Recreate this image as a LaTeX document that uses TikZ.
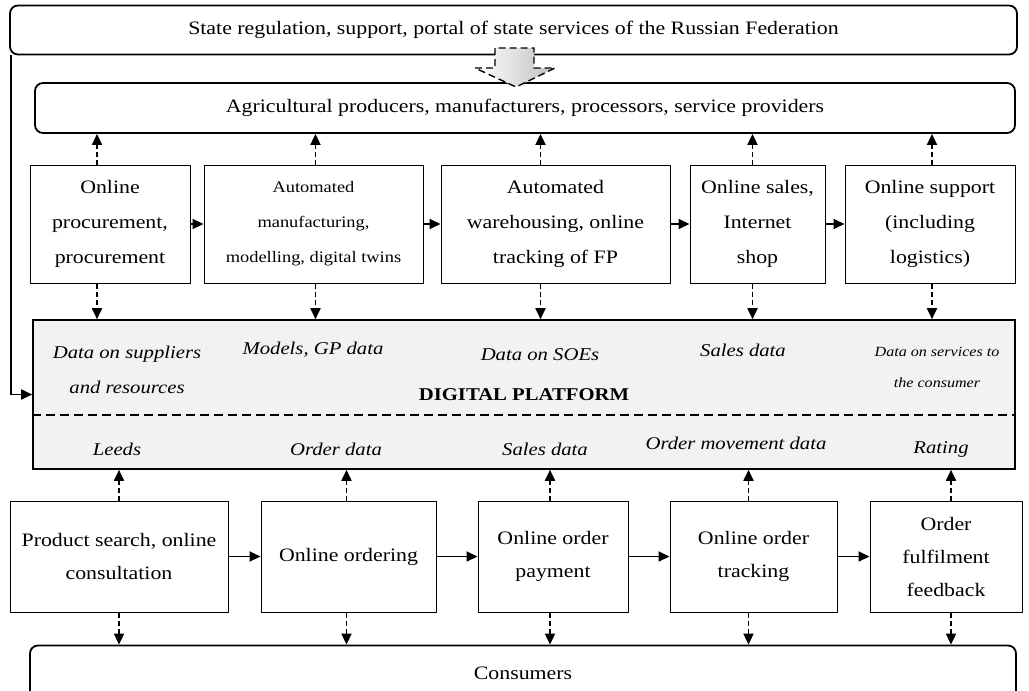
\documentclass[tikz,border=0pt]{standalone}
\usepackage{fontspec}
\setmainfont[FakeStretch=1.15]{Liberation Serif}
\usetikzlibrary{positioning, arrows.meta}
\tikzset{
    >={Triangle[length=11pt, width=10pt]}, % filled triangle heads
    band/.style={draw, rounded corners=8pt, line width=1.8pt, font=\fontsize{19}{22}\selectfont}, % the long rounded bars
    proc/.style={draw, line width=1pt, align=center, inner sep=2pt, font=\fontsize{19}{35}\selectfont}, % process boxes
    toprow/.style={proc, minimum height=118pt},
    lowrow/.style={proc, minimum height=111pt, font=\fontsize{19}{33}\selectfont},
    flow/.style={->, line width=1.8pt}, % solid arrows between steps
    link/.style={->, line width=1.8pt, dash pattern=on 5pt off 3pt}, % dashed data arrows
    plab/.style={font=\itshape\fontsize{18}{35}\selectfont, align=center}, % labels on the platform
}
\begin{document}
\begin{tikzpicture}[x=1pt, y=-1pt]
\useasboundingbox (0,0) rectangle (1029,691);
% bars
\node[band, minimum width=1007pt, minimum height=49pt] (state) at (513.5,30) {State regulation, support, portal of state services of the Russian Federation};
\node[band, minimum width=980pt, minimum height=50pt] (agri) at (525,108) {Agricultural producers, manufacturers, processors, service providers};
\node[draw, fill=gray!10, line width=1.6pt, minimum width=982pt, minimum height=149pt, font=\bfseries\fontsize{18}{22}\selectfont] (platform) at (524,394.5) {DIGITAL PLATFORM};
\node[band, minimum width=986pt, minimum height=55pt] (consumers) at (523,673) {Consumers};
% big arrow from the state
\draw[line width=1.4pt, dash pattern=on 7pt off 4pt, left color=white, right color=gray!50]
    (495,48) -- (495,68) -- (475,68) -- (516,87) -- (555,68) -- (534,68) -- (534,48) -- cycle;
% upper process chain
\node[toprow, minimum width=160pt] (p1) at (110,224) {Online\\procurement,\\procurement};
\node[toprow, minimum width=219pt, font=\fontsize{16}{35}\selectfont] (p2) at (313.5,224) {Automated\\manufacturing,\\modelling, digital twins};
\node[toprow, minimum width=229pt] (p3) at (555.5,224) {Automated\\warehousing, online\\tracking of FP};
\node[toprow, minimum width=135pt] (p4) at (757.5,224) {Online sales,\\Internet\\shop};
\node[toprow, minimum width=170pt] (p5) at (930,224) {Online support\\(including\\logistics)};
\draw[flow] (p1) -- (p2);
\draw[flow] (p2) -- (p3);
\draw[flow] (p3) -- (p4);
\draw[flow] (p4) -- (p5);
\foreach \n/\s in {p1/-13, p2/2, p3/-15, p4/-5, p5/2} {
    \draw[link] ([xshift=\s pt]\n.north) -- ([xshift=\s pt]\n.north |- agri.south);
    \draw[link] ([xshift=\s pt]\n.south) -- ([xshift=\s pt]\n.south |- platform.north);
}
% platform labels
\node[plab] (dsup) at (127,370) {Data on suppliers\\and resources};
\node[plab] (dmod) at (313,350) {Models, GP data};
\node[plab] (dsoe) at (540,355) {Data on SOEs};
\node[plab] (dsal) at (743,350) {Sales data};
\node[plab, font=\itshape\fontsize{14}{31}\selectfont] (dser) at (937,367) {Data on services to\\the consumer};
\draw[line width=1.5pt, dash pattern=on 9pt off 5pt] (platform.west |- 0,415) -- (platform.east |- 0,415);
\node[plab] (lead) at (117,449) {Leeds};
\node[plab] (dord) at (336,449) {Order data};
\node[plab] (dpay) at (545,449) {Sales data};
\node[plab] (dmov) at (736,443) {Order movement data};
\node[plab] (drat) at (941,449) {Rating};
% lower process chain
\node[lowrow, minimum width=218pt] (c1) at (119,556.5) {Product search, online\\consultation};
\node[lowrow, minimum width=175pt] (c2) at (348.5,556.5) {Online ordering};
\node[lowrow, minimum width=150pt] (c3) at (553,556.5) {Online order\\payment};
\node[lowrow, minimum width=167pt] (c4) at (753.5,556.5) {Online order\\tracking};
\node[lowrow, minimum width=152pt] (c5) at (946,556.5) {Order\\fulfilment\\feedback};
\draw[flow] (c1) -- (c2);
\draw[flow] (c2) -- (c3);
\draw[flow] (c3) -- (c4);
\draw[flow] (c4) -- (c5);
\foreach \n/\s in {c1/0, c2/-2, c3/-3, c4/-5, c5/5} {
    \draw[link] ([xshift=\s pt]\n.north) -- ([xshift=\s pt]\n.north |- platform.south);
    \draw[link] ([xshift=\s pt]\n.south) -- ([xshift=\s pt]\n.south |- consumers.north);
}
% feedback from the state to the platform
\draw[flow] ([xshift=2pt]state.south west) |- (platform.west);
\end{tikzpicture}
\end{document}
